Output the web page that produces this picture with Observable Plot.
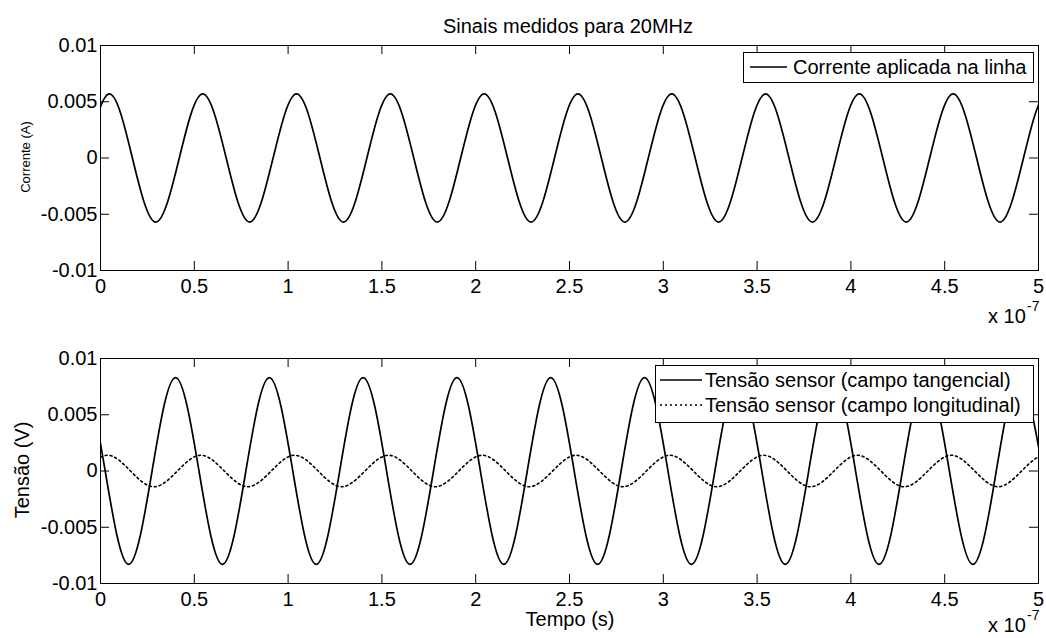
<!DOCTYPE html>
<html><head><meta charset="utf-8">
<script src="https://cdn.jsdelivr.net/npm/d3@7"></script>
<script src="https://cdn.jsdelivr.net/npm/@observablehq/plot@0.6"></script>
<style>
body{margin:0;background:#fff;}
#fig{position:relative;width:1046px;height:638px;overflow:hidden;background:#fff;font-family:"Liberation Sans",Arial,sans-serif;}
#fig > svg, #fig > figure{position:absolute;left:0;margin:0;}
</style></head><body><div id="fig"></div>
<script>
// time in units of 1e-7 s
const xTicks = [0, 0.5, 1, 1.5, 2, 2.5, 3, 3.5, 4, 4.5, 5];
const xTickLabels = ["0", "0.5", "1", "1.5", "2", "2.5", "3", "3.5", "4", "4.5", "5"];
const yTicks = [-0.01, -0.005, 0, 0.005, 0.01];
const yTickLabels = ["-0.01", "-0.005", "0", "0.005", "0.01"];

// the first two and last two points lie just outside the frame and are clipped
const tempoCorrente = [-0.205, -0.08, 0.045, 0.17, 0.295, 0.42, 0.545, 0.67, 0.795, 0.92, 1.045, 1.17, 1.295, 1.42, 1.545, 1.67, 1.795, 1.92, 2.045, 2.17, 2.295, 2.42, 2.545, 2.67, 2.795, 2.92, 3.045, 3.17, 3.295, 3.42, 3.545, 3.67, 3.795, 3.92, 4.045, 4.17, 4.295, 4.42, 4.545, 4.67, 4.795, 4.92, 5.045, 5.17];
const corrente = [-0.0057, 0, 0.0057, 0, -0.0057, 0, 0.0057, 0, -0.0057, 0, 0.0057, 0, -0.0057, 0, 0.0057, 0, -0.0057, 0, 0.0057, 0, -0.0057, 0, 0.0057, 0, -0.0057, 0, 0.0057, 0, -0.0057, 0, 0.0057, 0, -0.0057, 0, 0.0057, 0, -0.0057, 0, 0.0057, 0, -0.0057, 0, 0.0057, 0];

const tempoTangencial = [-0.225, -0.1, 0.025, 0.15, 0.275, 0.4, 0.525, 0.65, 0.775, 0.9, 1.025, 1.15, 1.275, 1.4, 1.525, 1.65, 1.775, 1.9, 2.025, 2.15, 2.275, 2.4, 2.525, 2.65, 2.775, 2.9, 3.025, 3.15, 3.275, 3.4, 3.525, 3.65, 3.775, 3.9, 4.025, 4.15, 4.275, 4.4, 4.525, 4.65, 4.775, 4.9, 5.025, 5.15];
const tensaoTangencial = [0, 0.0083, 0, -0.0083, 0, 0.0083, 0, -0.0083, 0, 0.0083, 0, -0.0083, 0, 0.0083, 0, -0.0083, 0, 0.0083, 0, -0.0083, 0, 0.0083, 0, -0.0083, 0, 0.0083, 0, -0.0083, 0, 0.0083, 0, -0.0083, 0, 0.0083, 0, -0.0083, 0, 0.0083, 0, -0.0083, 0, 0.0083, 0, -0.0083];

const tempoLongitudinal = [-0.215, -0.09, 0.035, 0.16, 0.285, 0.41, 0.535, 0.66, 0.785, 0.91, 1.035, 1.16, 1.285, 1.41, 1.535, 1.66, 1.785, 1.91, 2.035, 2.16, 2.285, 2.41, 2.535, 2.66, 2.785, 2.91, 3.035, 3.16, 3.285, 3.41, 3.535, 3.66, 3.785, 3.91, 4.035, 4.16, 4.285, 4.41, 4.535, 4.66, 4.785, 4.91, 5.035, 5.16];
const tensaoLongitudinal = [-0.0014, 0, 0.0014, 0, -0.0014, 0, 0.0014, 0, -0.0014, 0, 0.0014, 0, -0.0014, 0, 0.0014, 0, -0.0014, 0, 0.0014, 0, -0.0014, 0, 0.0014, 0, -0.0014, 0, 0.0014, 0, -0.0014, 0, 0.0014, 0, -0.0014, 0, 0.0014, 0, -0.0014, 0, 0.0014, 0, -0.0014, 0, 0.0014, 0];

const FONT = "'Liberation Sans', Arial, Helvetica, sans-serif";
const W = 1046, ML = 100, MR = 8, TICK = 9;

function panel(height, marginTop, marginBottom, lines) {
  const plotH = height - marginTop - marginBottom;
  const plotW = W - ML - MR;
  return Plot.plot({
    width: W, height, marginLeft: ML, marginRight: MR, marginTop, marginBottom,
    x: {domain: [0, 5]},
    y: {domain: [-0.01, 0.01]},
    style: {fontFamily: FONT, fontSize: "20px", background: "transparent", color: "black", overflow: "visible"},
    marks: [
      ...lines,
      Plot.tickX(xTicks, {x: d => d, insetTop: plotH - TICK, stroke: "black", strokeWidth: 1}),
      Plot.tickX(xTicks, {x: d => d, insetBottom: plotH - TICK, stroke: "black", strokeWidth: 1}),
      Plot.tickY(yTicks, {y: d => d, insetRight: plotW - TICK, stroke: "black", strokeWidth: 1}),
      Plot.tickY(yTicks, {y: d => d, insetLeft: plotW - TICK, stroke: "black", strokeWidth: 1}),
      Plot.frame({stroke: "black", strokeWidth: 1}),
      Plot.axisX(xTicks, {anchor: "bottom", tickSize: 0, tickPadding: 8, label: null, fontSize: 20,
        tickFormat: d => xTickLabels[xTicks.indexOf(d)]}),
      Plot.axisY(yTicks, {anchor: "left", tickSize: 0, tickPadding: 3, label: null, fontSize: 20,
        tickFormat: d => yTickLabels[yTicks.indexOf(d)]})
    ]
  });
}

const fig = document.getElementById("fig");

const p1 = panel(320, 45, 50, [
  Plot.line(corrente, {x: tempoCorrente, y: corrente, curve: "natural", stroke: "black", strokeWidth: 1.7, clip: true})
]);
p1.style.top = "0px";
fig.appendChild(p1);

const p2 = panel(318, 38, 55, [
  Plot.line(tensaoLongitudinal, {x: tempoLongitudinal, y: tensaoLongitudinal, curve: "natural", stroke: "black", strokeWidth: 1.6, strokeDasharray: "2,3", clip: true}),
  Plot.line(tensaoTangencial, {x: tempoTangencial, y: tensaoTangencial, curve: "natural", stroke: "black", strokeWidth: 1.7, clip: true})
]);
p2.style.top = "320px";
fig.appendChild(p2);

// overlay: titles, labels, multipliers, legends
const ns = "http://www.w3.org/2000/svg";
const ov = document.createElementNS(ns, "svg");
ov.setAttribute("width", W); ov.setAttribute("height", 638);
ov.style.position = "absolute"; ov.style.top = "0px"; ov.style.left = "0px";
ov.style.fontFamily = FONT;
fig.appendChild(ov);
function el(tag, attrs, text) {
  const e = document.createElementNS(ns, tag);
  for (const k in attrs) e.setAttribute(k, attrs[k]);
  if (text != null) e.textContent = text;
  ov.appendChild(e);
  return e;
}
el("text", {x: 568, y: 33, "text-anchor": "middle", "font-size": 20}, "Sinais medidos para 20MHz");
el("text", {transform: "translate(30,157) rotate(-90)", "text-anchor": "middle", "font-size": 13}, "Corrente (A)");
el("text", {transform: "translate(29,470) rotate(-90)", "text-anchor": "middle", "font-size": 20}, "Tensão (V)");
el("text", {x: 570, y: 626, "text-anchor": "middle", "font-size": 20}, "Tempo (s)");
el("text", {x: 988, y: 323, "font-size": 20}, "x 10");
el("text", {x: 1027, y: 311, "font-size": 14}, "-7");
el("text", {x: 988, y: 632, "font-size": 20}, "x 10");
el("text", {x: 1027, y: 620, "font-size": 14}, "-7");

// legend top
el("rect", {x: 743.5, y: 52.5, width: 290, height: 30, fill: "white", stroke: "black", "stroke-width": 1});
el("line", {x1: 750, x2: 787, y1: 67, y2: 67, stroke: "black", "stroke-width": 1.7});
el("text", {x: 793, y: 74, "font-size": 20}, "Corrente aplicada na linha");
// legend bottom
el("rect", {x: 655.5, y: 365.5, width: 378, height: 57, fill: "white", stroke: "black", "stroke-width": 1});
el("line", {x1: 660, x2: 702, y1: 380, y2: 380, stroke: "black", "stroke-width": 1.7});
el("text", {x: 705, y: 387, "font-size": 20}, "Tensão sensor (campo tangencial)");
el("line", {x1: 660, x2: 702, y1: 405, y2: 405, stroke: "black", "stroke-width": 1.6, "stroke-dasharray": "2,3"});
el("text", {x: 705, y: 412, "font-size": 20}, "Tensão sensor (campo longitudinal)");
</script>
</body></html>
